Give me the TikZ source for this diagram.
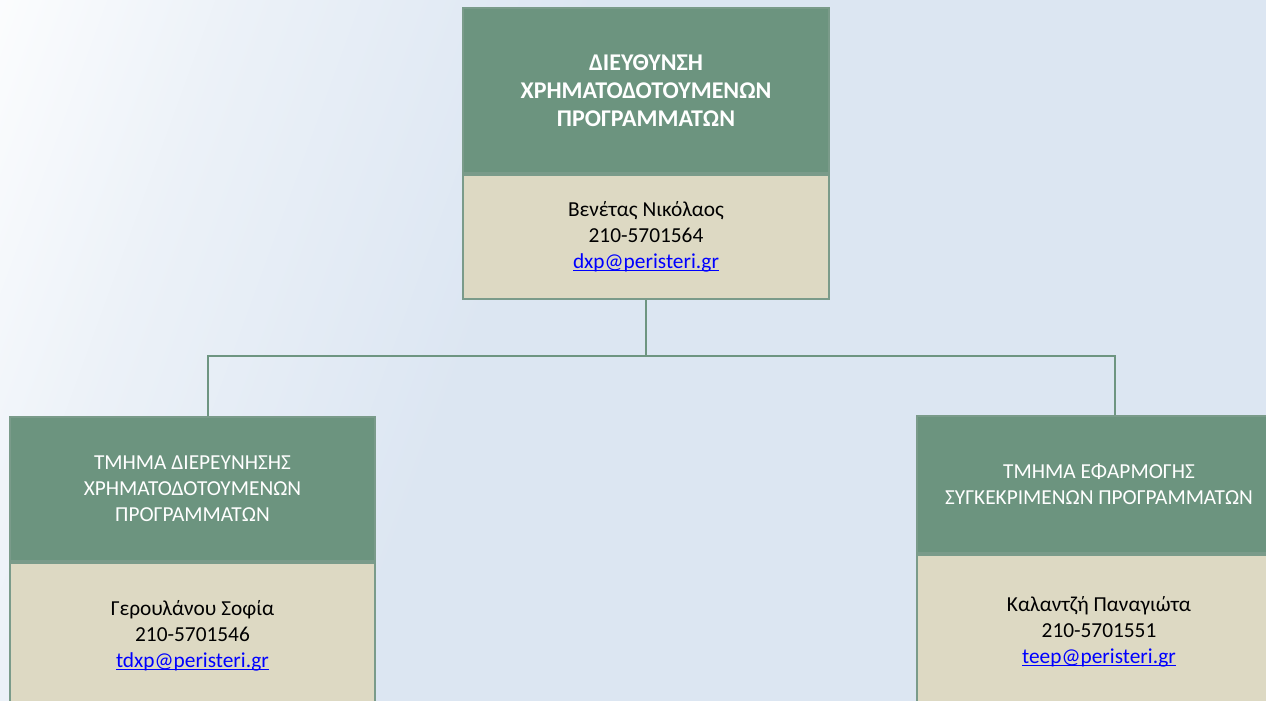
\documentclass[tikz,border=0pt]{standalone}
\usepackage{fontspec}
\setmainfont{Carlito}
\definecolor{bgblue}{RGB}{220,230,242}
\definecolor{hdrgreen}{RGB}{108,148,127}
\definecolor{bodybeige}{RGB}{221,217,195}
\definecolor{edgegreen}{RGB}{122,155,138}
\definecolor{connline}{RGB}{110,149,129}
\definecolor{linkblue}{RGB}{0,0,255}
\pgfdeclarehorizontalshading{bgshade}{100bp}{color(0bp)=(white); color(16bp)=(white); color(26bp)=(white!45!bgblue); color(38bp)=(bgblue); color(100bp)=(bgblue)}
\newcommand{\maillink}[1]{\textcolor{linkblue}{\setbox0\hbox{#1}\rlap{\rule[-1.7pt]{\wd0}{0.75pt}}\box0}}
\tikzset{
  hdr/.style={fill=hdrgreen, draw=edgegreen, line width=1.5pt, text=white, align=center, inner sep=0pt, font=\fontsize{16}{19.5}\selectfont},
  tophdr/.style={hdr, font=\fontsize{18}{21}\selectfont\bfseries},
  bodybox/.style={fill=bodybeige, draw=edgegreen, line width=1.5pt, text=black, align=center, inner sep=0pt, font=\fontsize{16}{19.5}\selectfont},
  conn/.style={draw=connline, line width=1.5pt}
}
\begin{document}
\begin{tikzpicture}[x=0.75pt,y=-0.75pt]
\useasboundingbox (0,0) rectangle (1266,700);
\clip (0,0) rectangle (1266,700);
\shade[shading=bgshade, shading angle=-20] (0,0) rectangle (1400,1400);

% top box
\node[tophdr, minimum width=274.5pt, minimum height=123.75pt] (th) at (646,90.5)
  {ΔΙΕΥΘΥΝΣΗ\\ΧΡΗΜΑΤΟΔΟΤΟΥΜΕΝΩΝ\\ΠΡΟΓΡΑΜΜΑΤΩΝ};
\node[bodybox, minimum width=274.5pt, minimum height=93pt, anchor=north] (tb) at (th.south)
  {Βενέτας Νικόλαος\\210-5701564\\\maillink{dxp@peristeri.gr}};

% left box
\node[hdr, minimum width=273.75pt, minimum height=108pt] (lh) at (192.5,489)
  {ΤΜΗΜΑ ΔΙΕΡΕΥΝΗΣΗΣ\\ΧΡΗΜΑΤΟΔΟΤΟΥΜΕΝΩΝ\\ΠΡΟΓΡΑΜΜΑΤΩΝ};
\node[bodybox, minimum width=273.75pt, minimum height=109.5pt, anchor=north] (lb) at (lh.south)
  {Γερουλάνου Σοφία\\210-5701546\\\maillink{tdxp@peristeri.gr}};

% right box
\node[hdr, minimum width=273pt, minimum height=102.75pt] (rh) at (1099,484.5)
  {ΤΜΗΜΑ ΕΦΑΡΜΟΓΗΣ\\ΣΥΓΚΕΚΡΙΜΕΝΩΝ ΠΡΟΓΡΑΜΜΑΤΩΝ};
\node[bodybox, minimum width=273pt, minimum height=115.5pt, anchor=north] (rb) at (rh.south)
  {Καλαντζή Παναγιώτα\\210-5701551\\\maillink{teep@peristeri.gr}};

% connectors
\coordinate (jt) at (646,356);
\coordinate (jl) at (208,356);
\coordinate (jr) at (1115,356);
\draw[conn] (tb.south) -- (jt);
\draw[conn] (jl |- lh.north) -- (jl) -- (jr) -- (jr |- rh.north);
\end{tikzpicture}
\end{document}
